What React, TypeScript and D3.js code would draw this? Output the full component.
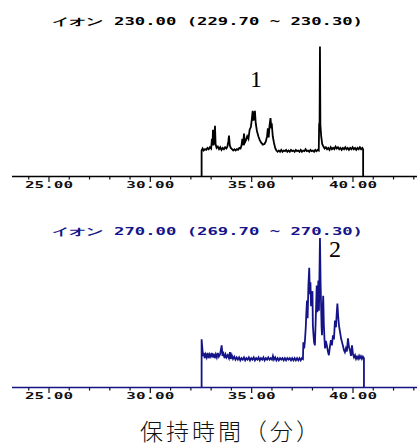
import React from "react";
import * as d3 from "d3";

// ---- data ----
const titles = ["イオン 230.00 (229.70 ~ 230.30)", "イオン 270.00 (269.70 ~ 270.30)"];
const peakLabels = ["1", "2"];
const tickLabels = ["25.00", "30.00", "35.00", "40.00"];
const majorTicks = [25, 30, 35, 40];
const minorTicks = d3.range(24, 44);
const xTitle = "保持時間（分）";

// [time (min), intensity]
const traceTop: [number, number][] = [
  [32.53, 0], [32.53, 20], [32.58, 21.5], [32.63, 20], [32.7, 21], [32.76, 20.5], [32.82, 22], [32.88, 21],
  [32.94, 22.5], [33.0, 21.5], [33.04, 29], [33.07, 24], [33.09, 36], [33.12, 24], [33.16, 30], [33.19, 39],
  [33.22, 25], [33.27, 22], [33.33, 23], [33.39, 21], [33.45, 22.5], [33.51, 20.5], [33.57, 22], [33.63, 21],
  [33.69, 22.5], [33.75, 21.5], [33.8, 23], [33.85, 27], [33.88, 31.5], [33.92, 24], [33.97, 22], [34.03, 21],
  [34.09, 20], [34.15, 21], [34.21, 20], [34.27, 21], [34.33, 20.5], [34.39, 22], [34.45, 21.5], [34.5, 24],
  [34.54, 29], [34.58, 24], [34.62, 33], [34.66, 26], [34.72, 28], [34.78, 31], [34.84, 29], [34.9, 36],
  [34.96, 38], [35.0, 43], [35.05, 50.5], [35.09, 43], [35.12, 46], [35.16, 50.5], [35.2, 41], [35.26, 35],
  [35.33, 31], [35.4, 28], [35.47, 26], [35.55, 24.5], [35.63, 25], [35.7, 27], [35.76, 31], [35.8, 37],
  [35.84, 30], [35.88, 39], [35.93, 45], [35.97, 37], [35.99, 41], [36.04, 31], [36.1, 26], [36.16, 22],
  [36.22, 20], [36.28, 19], [36.34, 20], [36.4, 19], [36.46, 20.5], [36.52, 19], [36.58, 20], [36.64, 19.5],
  [36.7, 20.5], [36.76, 19], [36.82, 20], [36.88, 19], [36.94, 20.5], [37.0, 19.5], [37.06, 20], [37.12, 19],
  [37.18, 20.5], [37.24, 19.5], [37.3, 20], [37.36, 19], [37.42, 20.5], [37.48, 19], [37.54, 20], [37.6, 19.5],
  [37.66, 21], [37.72, 19.5], [37.78, 20], [37.84, 19], [37.9, 20.5], [37.96, 19.5], [38.02, 20], [38.08, 19],
  [38.14, 20.5], [38.2, 19.5], [38.26, 20.5], [38.31, 20], [38.33, 41], [38.35, 38], [38.37, 100], [38.39, 40],
  [38.43, 31], [38.48, 25], [38.54, 23], [38.6, 21.5], [38.66, 22.5], [38.72, 21], [38.78, 22], [38.84, 20.5],
  [38.9, 22.5], [38.96, 21], [39.02, 22], [39.08, 21], [39.14, 23], [39.2, 21.5], [39.26, 22.5], [39.32, 21],
  [39.38, 22], [39.44, 20.5], [39.5, 22], [39.56, 21], [39.62, 22.5], [39.68, 21], [39.74, 22], [39.8, 20.5],
  [39.86, 22], [39.92, 21], [39.98, 22.5], [40.04, 21], [40.1, 22], [40.16, 20.5], [40.22, 22], [40.28, 21],
  [40.34, 22.5], [40.4, 21], [40.46, 22], [40.5, 21], [40.5, 0],
];

const traceBottom: [number, number][] = [
  [32.53, 0], [32.53, 32], [32.56, 27], [32.6, 21], [32.64, 23], [32.68, 19.5], [32.73, 22], [32.78, 20],
  [32.83, 23], [32.88, 19.5], [32.93, 22], [32.98, 20.5], [33.03, 23], [33.08, 20], [33.13, 22.5], [33.18, 19.5],
  [33.23, 22], [33.28, 20], [33.33, 23], [33.38, 20.5], [33.44, 22], [33.48, 25], [33.52, 28], [33.56, 21],
  [33.61, 22.5], [33.66, 19.5], [33.71, 22], [33.76, 20], [33.82, 21.5], [33.88, 19.5], [33.93, 23.5], [33.97, 19],
  [34.02, 21.5], [34.08, 19], [34.14, 20.5], [34.2, 18.5], [34.26, 20], [34.32, 18.5], [34.38, 20], [34.44, 18],
  [34.5, 19.5], [34.56, 18.5], [34.62, 20], [34.68, 18], [34.74, 19.5], [34.8, 18.5], [34.86, 20], [34.92, 18],
  [34.98, 19.5], [35.04, 18.5], [35.1, 20], [35.16, 18], [35.22, 19.5], [35.28, 18.5], [35.34, 20], [35.4, 18],
  [35.46, 19.5], [35.52, 18.5], [35.58, 20], [35.64, 18], [35.7, 19.5], [35.76, 18.5], [35.82, 20], [35.88, 18.5],
  [35.94, 19.5], [36.0, 18.5], [36.05, 21], [36.1, 18.5], [36.16, 20], [36.22, 18], [36.28, 19.5], [36.34, 18],
  [36.4, 19.5], [36.46, 18.5], [36.52, 19.5], [36.58, 18], [36.64, 19.5], [36.7, 18], [36.76, 19.5], [36.82, 18.5],
  [36.88, 19.5], [36.94, 18], [37.0, 19.5], [37.06, 18], [37.12, 19.5], [37.18, 18], [37.24, 19.5], [37.3, 18],
  [37.36, 19.5], [37.42, 18], [37.48, 19.5], [37.53, 19], [37.55, 30], [37.59, 26], [37.63, 31.4], [37.67, 40],
  [37.7, 50], [37.73, 57.8], [37.76, 46], [37.8, 68], [37.84, 79.5], [37.87, 62], [37.9, 70], [37.93, 54],
  [37.97, 60], [38.0, 64], [38.02, 41], [38.05, 35], [38.08, 30], [38.12, 28], [38.16, 45], [38.21, 67.7],
  [38.24, 50], [38.27, 62], [38.29, 71], [38.32, 51], [38.35, 80], [38.37, 99.3], [38.4, 70], [38.42, 57.8],
  [38.45, 40], [38.47, 34.7], [38.5, 50], [38.53, 61], [38.56, 42], [38.59, 33], [38.62, 26], [38.66, 31],
  [38.71, 28], [38.76, 24], [38.81, 21.5], [38.86, 27], [38.91, 31.4], [38.96, 28], [39.01, 34.7], [39.06, 32],
  [39.11, 44.5], [39.16, 40], [39.2, 50], [39.23, 55.8], [39.27, 47], [39.31, 41], [39.36, 37], [39.41, 32.7],
  [39.46, 30], [39.5, 28], [39.55, 25], [39.6, 23.4], [39.65, 26], [39.7, 24], [39.75, 32.7], [39.8, 27],
  [39.85, 24.8], [39.9, 21], [39.95, 28], [40.0, 22], [40.05, 20], [40.1, 21.5], [40.15, 19], [40.2, 20.5],
  [40.25, 19], [40.3, 21], [40.34, 19.5], [40.39, 20.8], [40.44, 19], [40.49, 20.5], [40.54, 19.5], [40.54, 0],
];

const BLUE = "#141488";

function Panel({
  data,
  axisY,
  topY,
  color,
  axisColor,
  title,
  titleY,
  titleColor,
  label,
  labelX,
  labelY,
}: {
  data: [number, number][];
  axisY: number;
  topY: number;
  color: string;
  axisColor: string;
  title: string;
  titleY: number;
  titleColor: string;
  label: string;
  labelX: number;
  labelY: number;
}) {
  const x = d3.scaleLinear().domain([25, 40]).range([49, 353]);
  const y = d3.scaleLinear().domain([0, 100]).range([axisY, topY]);
  const line = d3
    .line<[number, number]>()
    .x((d) => x(d[0]))
    .y((d) => y(d[1]));
  return (
    <g>
      <text
        x={52}
        y={titleY}
        textLength={311}
        lengthAdjust="spacingAndGlyphs"
        fontFamily="DejaVu Sans Mono"
        fontWeight="bold"
        fontSize={10}
        fill={titleColor}
      >
        {title}
      </text>
      <path d={line(data) || ""} fill="none" stroke={color} strokeWidth={1.8} strokeLinejoin="miter" />
      {minorTicks.map((t) => (
        <line
          key={"m" + t}
          x1={x(t)}
          x2={x(t)}
          y1={axisY}
          y2={axisY + (majorTicks.includes(t) ? 5.5 : 3)}
          stroke="#111"
          strokeWidth={1.2}
        />
      ))}
      <line x1={12} x2={417} y1={axisY} y2={axisY} stroke={axisColor} strokeWidth={1.6} />
      {majorTicks.map((t, i) => (
        <text
          key={"l" + t}
          x={x(t) - 24}
          y={axisY + 11}
          textLength={48}
          lengthAdjust="spacingAndGlyphs"
          fontFamily="DejaVu Sans Mono"
          fontWeight="bold"
          fontSize={8}
          fill="#111"
        >
          {tickLabels[i]}
        </text>
      ))}
      <text
        x={labelX}
        y={labelY}
        textAnchor="middle"
        fontFamily="Liberation Serif"
        fontSize={24}
        fill="#000"
      >
        {label}
      </text>
    </g>
  );
}

export default function App() {
  return (
    <svg width={417} height={448} style={{ display: "block", position: "absolute", left: 0, top: 0 }}>
      <rect width={417} height={448} fill="#fff" />
      <Panel
        data={traceTop}
        axisY={176.5}
        topY={46.5}
        color="#000"
        axisColor="#000"
        title={titles[0]}
        titleY={25}
        titleColor="#000"
        label={peakLabels[0]}
        labelX={256}
        labelY={87}
      />
      <Panel
        data={traceBottom}
        axisY={387.5}
        topY={237}
        color={BLUE}
        axisColor={BLUE}
        title={titles[1]}
        titleY={235}
        titleColor={BLUE}
        label={peakLabels[1]}
        labelX={335}
        labelY={257}
      />
      <text
        x={140}
        y={440}
        fontFamily="Noto Sans CJK JP"
        fontWeight={300}
        fontSize={23}
        letterSpacing={3}
        fill="#111"
      >
        {xTitle}
      </text>
    </svg>
  );
}
